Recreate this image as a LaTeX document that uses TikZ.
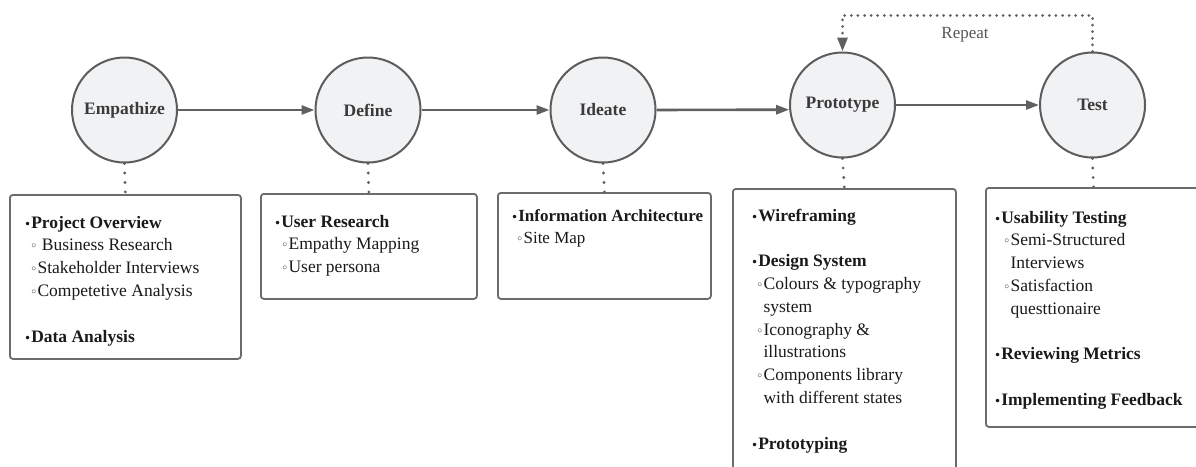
\documentclass[tikz,border=0pt]{standalone}
\usepackage{fontspec}
\setmainfont{Liberation Serif}
\newfontfamily\symf{DejaVu Sans}
\usetikzlibrary{arrows.meta}
\definecolor{ringgray}{HTML}{5C5C5C}
\definecolor{phasefill}{HTML}{F1F2F4}
\definecolor{labelgray}{HTML}{3A3A3A}
\definecolor{arrowgray}{HTML}{606060}
\definecolor{boxgray}{HTML}{6B6B6B}
\definecolor{inkblack}{HTML}{1A1A1A}
\definecolor{notegray}{HTML}{555555}
\newlength\subin
\setlength\subin{6pt}
\newcommand\bb{{\symf\fontsize{12}{12}\selectfont •}}
\newcommand\hd[1]{\bb\textbf{#1}}
\newcommand\wb{{\symf\fontsize{12.5}{12}\selectfont ◦}}
\newcommand\sub[1]{\hspace*{\subin}\wb#1}
\newcommand\subc[1]{\hspace*{\subin}\phantom{\wb}#1}
\begin{document}
\begin{tikzpicture}[x=1pt,y=-1pt,
  phase/.style={circle, draw=ringgray, line width=2pt, fill=phasefill,
    minimum size=105pt, inner sep=0pt,
    font=\fontsize{17.5}{20}\selectfont\bfseries, text=labelgray},
  flow/.style={draw=arrowgray, line width=2.6pt,
    -{Triangle[length=13pt,width=9pt]}},
  link/.style={draw=arrowgray, line width=3.2pt, line cap=round,
    dash pattern=on 0pt off 9.5pt},
  loopback/.style={draw=arrowgray, line width=3pt, line cap=round,
    dash pattern=on 0pt off 6.6pt, -{Triangle[length=14pt,width=10pt]}},
  listbox/.style={draw=boxgray, line width=1.8pt, rounded corners=3pt,
    fill=white, anchor=north west, inner sep=0pt},
  items/.style={anchor=base west, inner sep=0pt, text=inkblack,
    font=\fontsize{17.5}{22.8}\selectfont}
]
\useasboundingbox (0,0) rectangle (1196,466);
\clip (0,0) rectangle (1196,466);

% phases of the process
\node[phase] (emp)   at (124.5,110) {Empathize};
\node[phase] (def)   at (368,110)   {Define};
\node[phase] (idea)  at (603,110)   {Ideate};
\node[phase] (proto) at (842.5,105) {Prototype};
\node[phase] (test)  at (1092.5,105) {Test};

\draw[flow] (emp.east) -- (def.west);
\draw[flow] (def.east) -- (idea.west);
\draw[flow] (idea.east) -- (proto.185);
\draw[flow] (proto.east) -- (test.west);

% iteration loop
\draw[loopback] (test.north) -- ++(0,-36) -| (proto.north);
\node[text=notegray, font=\fontsize{17}{20}\selectfont] (rep) at (965,35) {Repeat};

% activity boxes
\node[listbox, minimum width=231pt, minimum height=164pt] (b1) at (9,194) {};
\node[listbox, minimum width=216pt, minimum height=105pt] (b2) at (260,193) {};
\node[listbox, minimum width=213pt, minimum height=106pt] (b3) at (497,192) {};
\node[listbox, minimum width=223pt, minimum height=300pt] (b4) at (732,188) {};
\node[listbox, minimum width=215pt, minimum height=239pt] (b5) at (985,187) {};

\draw[link] (emp.south) -- (b1.north);
\draw[link] (def.south) -- (b2.north);
\draw[link] (idea.south) -- (b3.north);
\draw[link] (proto.south) -- (b4.north);
\draw[link] (test.south) -- (b5.north);

\node[items] (t1) at (24,228) {\begin{tabular}[t]{@{}l@{}}
\hd{Project Overview}\\
\sub{ Business Research}\\
\sub{Stakeholder Interviews}\\
\sub{Competetive Analysis}\\
\\
\hd{Data Analysis}
\end{tabular}};

\node[items] (t2) at (274,227) {\setlength\subin{7pt}\begin{tabular}[t]{@{}l@{}}
\hd{User Research}\\
\sub{Empathy Mapping}\\
\sub{User persona}
\end{tabular}};

\node[items, font=\fontsize{17}{22.8}\selectfont] (t3) at (511,221) {\setlength\subin{5pt}\begin{tabular}[t]{@{}l@{}}
\hd{Information Architecture}\\
\sub{Site Map}
\end{tabular}};

\node[items] (t4) at (751,221) {\setlength\subin{5pt}\begin{tabular}[t]{@{}l@{}}
\hd{Wireframing}\\
\\
\hd{Design System}\\
\sub{Colours \& typography}\\
\subc{system}\\
\sub{Iconography \&}\\
\subc{illustrations}\\
\sub{Components library}\\
\subc{with different states}\\
\\
\hd{Prototyping}
\end{tabular}};

\node[items] (t5) at (994,223) {\setlength\subin{9pt}\begin{tabular}[t]{@{}l@{}}
\hd{Usability Testing}\\
\sub{Semi-Structured}\\
\subc{Interviews}\\
\sub{Satisfaction}\\
\subc{questtionaire}\\
\\
\hd{Reviewing Metrics}\\
\\
\hd{Implementing Feedback}
\end{tabular}};
\end{tikzpicture}
\end{document}
